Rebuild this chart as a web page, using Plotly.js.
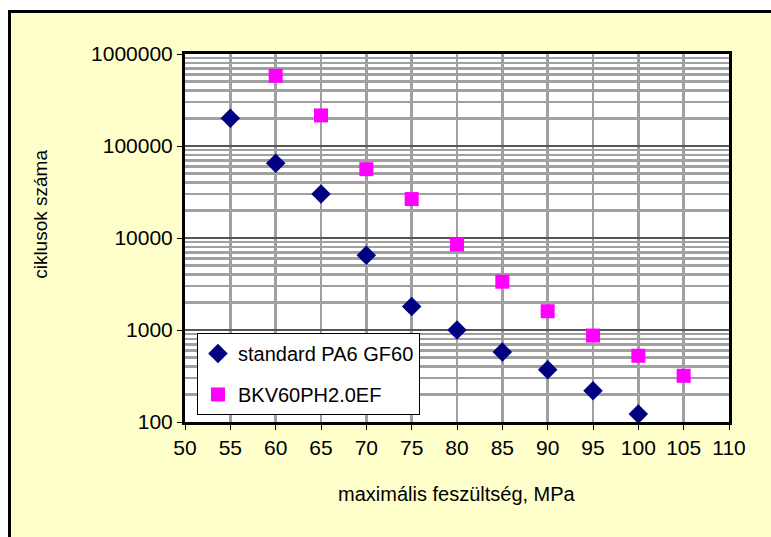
<!DOCTYPE html>
<html>
<head>
<meta charset="utf-8">
<script src="https://cdn.plot.ly/plotly-3.0.1.min.js"></script>
<style>
  html, body { margin: 0; padding: 0; background: #ffffff; width: 771px; height: 537px; overflow: hidden; }
  #frame { position: absolute; left: 8px; top: 10px; width: 800px; height: 600px; background: #FFFFCC; border-left: 3px solid #000; border-top: 3px solid #000; box-sizing: border-box; }
  #chart { position: absolute; left: 0; top: 0; width: 771px; height: 537px; }
</style>
</head>
<body>
<div id="frame"></div>
<div id="chart"></div>
<script>
// Data
const stress = [55, 60, 65, 70, 75, 80, 85, 90, 95, 100];
const cyclesStandard = [200000, 65000, 30000, 6500, 1800, 1000, 575, 370, 218, 122];
const stressBKV = [60, 65, 70, 75, 80, 85, 90, 95, 100, 105];
const cyclesBKV = [580000, 215000, 56000, 26500, 8500, 3350, 1600, 870, 525, 318];
const seriesNames = ['standard PA6 GF60', 'BKV60PH2.0EF'];
const xTicks = [50, 55, 60, 65, 70, 75, 80, 85, 90, 95, 100, 105, 110];
const yTicks = [100, 1000, 10000, 100000, 1000000];
const yTickText = ['100', '1000', '10000', '100000', '1000000'];
const xTitle = 'maximális feszültség, MPa';
const yTitle = 'ciklusok száma';

const font = 'Liberation Sans, Arial, sans-serif';

const traces = [
  {
    x: stress, y: cyclesStandard, type: 'scatter', mode: 'markers', name: seriesNames[0],
    legendgroup: 'a',
    marker: { symbol: 'diamond', size: 15, color: '#000080' }
  },
  {
    x: stressBKV, y: cyclesBKV, type: 'scatter', mode: 'markers', name: seriesNames[1],
    legendgroup: 'b',
    marker: { symbol: 'square', size: 14, color: '#FF00FF' }
  }
];

const layout = {
  width: 771, height: 537,
  margin: { l: 185, r: 42, t: 54, b: 115 },
  paper_bgcolor: 'rgba(0,0,0,0)',
  plot_bgcolor: '#ffffff',
  font: { family: font, size: 18, color: '#000' },
  showlegend: true,
  legend: {
    x: 0.022, y: 0.242, xanchor: 'left', yanchor: 'top',
    bgcolor: '#ffffff', bordercolor: '#000', borderwidth: 1,
    font: { family: font, size: 20, color: '#000' },
    traceorder: 'grouped', tracegroupgap: 12,
    itemwidth: 30
  },
  xaxis: {
    range: [50, 110], tickvals: xTicks, ticks: 'outside', ticklen: 5, tickcolor: '#000',
    showgrid: true, gridcolor: '#a0a0a0', gridwidth: 2.5,
    showline: true, linecolor: '#000', linewidth: 3, mirror: true,
    zeroline: false, tickfont: { family: font, size: 21 }
  },
  yaxis: {
    type: 'log', range: [2, 6], tickvals: yTicks, ticktext: yTickText,
    ticks: 'outside', ticklen: 5, tickcolor: '#000',
    showgrid: true, gridcolor: '#555', gridwidth: 1.5,
    minor: { dtick: 'D1', showgrid: true, gridcolor: '#a0a0a0', gridwidth: 2.5, ticks: '' },
    showline: true, linecolor: '#000', linewidth: 3, mirror: true,
    zeroline: false, tickfont: { family: font, size: 21 }
  },
  annotations: [
    { text: xTitle, xref: 'paper', yref: 'paper', x: 0.5, y: -0.195, xanchor: 'center', yanchor: 'middle', showarrow: false, font: { family: font, size: 20 } },
    { text: yTitle, xref: 'paper', yref: 'paper', x: -0.267, y: 0.565, xanchor: 'center', yanchor: 'middle', textangle: -90, showarrow: false, font: { family: font, size: 19 } }
  ]
};

Plotly.newPlot('chart', traces, layout, { displayModeBar: false, staticPlot: true });
</script>
</body>
</html>
